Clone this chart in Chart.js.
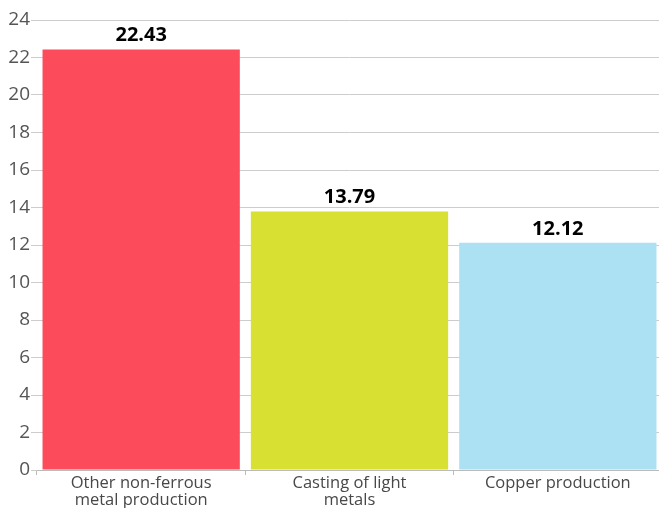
<!DOCTYPE html>
<html>
<head>
<meta charset="utf-8">
<script src="https://cdn.jsdelivr.net/npm/chart.js@4/dist/chart.umd.min.js"></script>
<style>
  html, body { margin: 0; padding: 0; background: #fff; overflow: hidden; }
  #wrap { width: 662px; height: 508px; }
</style>
</head>
<body>
<div id="wrap"><canvas id="chart"></canvas></div>
<script>
const categories = [
  ["Other non-ferrous", "metal production"],
  ["Casting of light", "metals"],
  "Copper production"
];
const values = [22.43, 13.79, 12.12];
const barColors = ["#FC4C5C", "#D8E032", "#ACE0F3"];
const yTicks = [0, 2, 4, 6, 8, 10, 12, 14, 16, 18, 20, 22, 24];

const FONT = "'Open Sans', 'Noto Sans', sans-serif";

// value labels over the bars
const valueLabels = {
  id: "valueLabels",
  afterDatasetsDraw(chart) {
    const ctx = chart.ctx;
    const meta = chart.getDatasetMeta(0);
    ctx.save();
    ctx.font = "bold 20px " + FONT;
    ctx.fillStyle = "#000";
    ctx.textAlign = "center";
    ctx.textBaseline = "alphabetic";
    meta.data.forEach((bar, i) => {
      ctx.fillText(values[i].toFixed(2), bar.x, bar.y - 8);
    });
    ctx.restore();
  }
};

new Chart(document.getElementById("chart"), {
  type: "bar",
  data: {
    labels: categories,
    datasets: [{
      data: values,
      backgroundColor: barColors,
      borderWidth: 0,
      barPercentage: 0.947,
      categoryPercentage: 1
    }]
  },
  options: {
    responsive: true,
    maintainAspectRatio: false,
    animation: false,
    layout: { padding: { top: 20, right: 0, left: 0, bottom: 0 } },
    plugins: { legend: { display: false }, tooltip: { enabled: false } },
    scales: {
      x: {
        afterFit: (s) => { s.height = 38; },
        grid: { drawOnChartArea: false, drawTicks: true, tickLength: 5, color: "#bbb" },
        border: { display: true, color: "#bbb" },
        ticks: { color: "#484848", font: { family: FONT, size: 16.5, lineHeight: 1.03 }, padding: 0, maxRotation: 0, autoSkip: false }
      },
      y: {
        min: 0,
        max: 24,
        afterFit: (s) => { s.width = 37; },
        afterBuildTicks: (s) => { s.ticks = yTicks.map(v => ({ value: v })); },
        grid: { color: "#cccccc", tickLength: 6 },
        border: { display: false },
        ticks: { color: "#555", font: { family: FONT, size: 19 }, padding: 1 }
      }
    }
  },
  plugins: [valueLabels]
});
</script>
</body>
</html>
